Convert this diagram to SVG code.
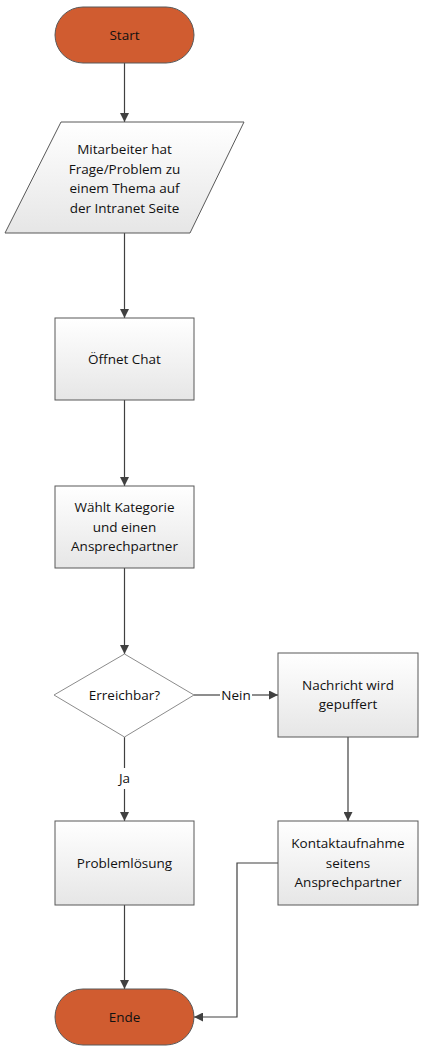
<svg xmlns="http://www.w3.org/2000/svg" width="425" height="1050" viewBox="0 0 425 1050">
<defs>
<linearGradient id="g" x1="0" y1="0" x2="0" y2="1"><stop offset="0" stop-color="#ffffff"/><stop offset="1" stop-color="#e6e6e6"/></linearGradient>
<marker id="arr" viewBox="0 0 10 10" refX="10" refY="5" markerWidth="9" markerHeight="9" markerUnits="userSpaceOnUse" orient="auto"><path d="M0,0 L10,5 L0,10 z" fill="#404040"/></marker>
<style>
.term{fill:#d05c30;stroke:#595959;stroke-width:1}
.box{fill:url(#g);stroke:#595959;stroke-width:1}
.dec{fill:#fff;stroke:#8c8c8c;stroke-width:1}
text{font-family:"Open Sans","Liberation Sans",sans-serif;font-size:13.5px;fill:#111;text-anchor:middle}
.c{fill:none;stroke:#404040;stroke-width:1.2;marker-end:url(#arr)}
.l{fill:none;stroke:#404040;stroke-width:1.2}
</style>
</defs>
<g id="connectors">
<path class="c" d="M124.5,63 V122"/>
<path class="c" d="M124.5,233 V318"/>
<path class="c" d="M124.5,400 V486"/>
<path class="c" d="M124.5,568 V654"/>
<path class="l" d="M194,695 H220"/>
<path class="c" d="M252,695 H278"/>
<text x="236" y="699.5">Nein</text>
<path class="l" d="M124.5,737 V768"/>
<path class="c" d="M124.5,789 V821"/>
<text x="124.5" y="783">Ja</text>
<path class="c" d="M348,737 V821"/>
<path class="c" d="M124.5,905 V989"/>
<path class="c" d="M278,863 H237 V1017 H194"/>
</g>
<g id="start"><rect class="term" x="55" y="7" width="139" height="56" rx="28"/><text x="124.5" y="39.5">Start</text></g>
<g id="frage"><polygon class="box" points="61,122 244,122 190,233 5,233"/>
<text x="124.5" y="154">Mitarbeiter hat</text><text x="124.5" y="173.5">Frage/Problem zu</text><text x="124.5" y="193">einem Thema auf</text><text x="124.5" y="212.5">der Intranet Seite</text></g>
<g id="chat"><rect class="box" x="55" y="318" width="139" height="82"/><text x="124.5" y="363.5">Öffnet Chat</text></g>
<g id="kategorie"><rect class="box" x="55" y="486" width="139" height="82"/><text x="124.5" y="512">Wählt Kategorie</text><text x="124.5" y="531.5">und einen</text><text x="124.5" y="551">Ansprechpartner</text></g>
<g id="erreichbar"><polygon class="dec" points="124.5,654 194,695 124.5,737 54,695"/><text x="124.5" y="699.5">Erreichbar?</text></g>
<g id="puffer"><rect class="box" x="278" y="653" width="140" height="84"/><text x="348" y="689.5">Nachricht wird</text><text x="348" y="709">gepuffert</text></g>
<g id="loesung"><rect class="box" x="55" y="821" width="139" height="84"/><text x="124.5" y="867.5">Problemlösung</text></g>
<g id="kontakt"><rect class="box" x="278" y="821" width="140" height="84"/><text x="348" y="848">Kontaktaufnahme</text><text x="348" y="867.5">seitens</text><text x="348" y="887">Ansprechpartner</text></g>
<g id="ende"><rect class="term" x="55" y="989" width="139" height="56" rx="28"/><text x="124.5" y="1021.5">Ende</text></g>
</svg>
